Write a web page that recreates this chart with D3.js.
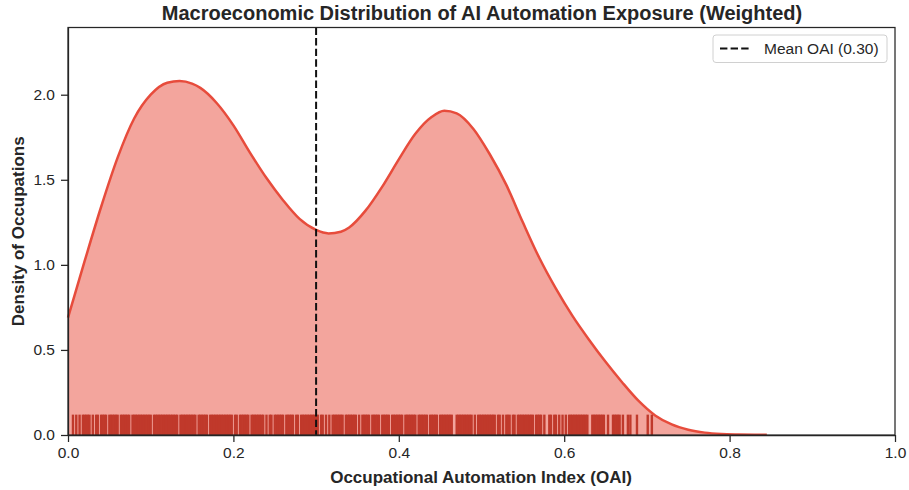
<!DOCTYPE html>
<html>
<head>
<meta charset="utf-8">
<script src="https://cdn.jsdelivr.net/npm/d3@7"></script>
<style>
  body { margin: 0; background: #fff; }
  svg { display: block; font-family: "Liberation Sans", Arial, sans-serif; }
  .axis text { font-size: 15.5px; fill: #262626; }
  .axis path, .axis line { stroke: #262626; stroke-width: 1.25; }
</style>
</head>
<body>
<svg id="figure"></svg>
<script>
// KDE curve (OAI value -> weighted density)
const oaiGrid = [0.000, 0.020, 0.040, 0.060, 0.080, 0.100, 0.120, 0.135, 0.150, 0.160,
  0.180, 0.200, 0.220, 0.240, 0.260, 0.280, 0.300, 0.315, 0.330, 0.340,
  0.360, 0.380, 0.400, 0.420, 0.440, 0.455, 0.470, 0.490, 0.510, 0.530,
  0.550, 0.570, 0.590, 0.610, 0.630, 0.650, 0.670, 0.690, 0.710, 0.730,
  0.750, 0.770, 0.790, 0.810, 0.830, 0.845];
const densityValues = [0.69, 1.02, 1.34, 1.63, 1.86, 2.00, 2.07, 2.08, 2.065, 2.04,
  1.95, 1.82, 1.66, 1.51, 1.38, 1.27, 1.205, 1.185, 1.195, 1.22,
  1.32, 1.46, 1.62, 1.77, 1.87, 1.905, 1.89, 1.80, 1.65, 1.47,
  1.25, 1.04, 0.86, 0.70, 0.56, 0.43, 0.31, 0.20, 0.115, 0.062,
  0.031, 0.014, 0.006, 0.003, 0.0015, 0.001];

// rug positions, in thousandths of the OAI
const rugOaiThousandths = [6, 10, 14, 18, 20, 22, 24, 26, 30, 34, 36, 40, 42, 44, 46,
  50, 52, 54, 56, 58, 60, 64, 66, 68, 70, 72, 74, 78, 80, 82, 84, 86, 88,
  90, 92, 94, 96, 98, 100, 104, 106, 108, 110, 112, 114, 116, 118,
  120, 122, 124, 126, 128, 130, 132, 136, 138, 140, 142, 144, 146, 148,
  150, 152, 154, 158, 160, 162, 164, 166, 168, 172, 174, 176, 178,
  180, 182, 184, 186, 188, 190, 192, 194, 196, 198, 202, 204, 208,
  210, 212, 214, 216, 218, 222, 224, 226, 228, 230, 232, 234, 236,
  240, 244, 246, 250, 252, 254, 256, 258, 260, 264, 266, 268,
  270, 272, 276, 278, 282, 284, 286, 288, 290, 292, 294, 296, 298,
  300, 302, 306, 308, 312, 316, 320, 322, 324, 326, 328, 330, 332, 336, 338,
  340, 342, 344, 346, 348, 352, 356, 358, 360, 362, 364, 368,
  370, 372, 374, 376, 380, 382, 384, 386, 388, 392, 394, 396, 398,
  400, 402, 404, 408, 410, 412, 414, 416, 418, 420, 424, 426, 428,
  430, 432, 434, 438, 440, 442, 444, 446, 450, 452, 454, 456, 458,
  460, 462, 464, 470, 472, 474, 476, 478, 480, 482, 484, 486, 488,
  492, 496, 498, 500, 502, 504, 506, 508, 510, 512, 514, 516,
  520, 522, 526, 530, 532, 534, 538, 540, 544, 546, 548,
  550, 552, 554, 556, 558, 560, 562, 566, 568, 570, 572, 576,
  582, 584, 588, 590, 594, 598, 602, 606, 608, 610, 612, 614, 616, 618,
  620, 622, 624, 626, 628, 634, 636, 638, 640, 642, 644, 646, 648,
  653, 659, 661, 663, 665, 667, 671, 677, 680, 688, 701, 706];

const meanOai = 0.30;
const xTicks = [0, 0.2, 0.4, 0.6, 0.8, 1.0];
const yTicks = [0, 0.5, 1.0, 1.5, 2.0];

const W = 909, H = 490;
const margin = {top: 27.5, right: 14, bottom: 55, left: 68};
const width = W - margin.left - margin.right;
const height = H - margin.top - margin.bottom;

const svg = d3.select("#figure").attr("width", W).attr("height", H);
const g = svg.append("g")
    .attr("transform", "translate(" + margin.left + "," + margin.top + ")");

const x = d3.scaleLinear().domain([0, 1]).range([0, width]);
const y = d3.scaleLinear().domain([0, 2.395]).range([height, 0]);

const curvePts = oaiGrid.map((v, i) => ({oai: v, dens: densityValues[i]}));

g.append("path")
    .datum(curvePts)
    .attr("fill", "#e74c3c")
    .attr("fill-opacity", 0.5)
    .attr("d", d3.area()
        .x(d => x(d.oai))
        .y0(y(0))
        .y1(d => y(d.dens))
        .curve(d3.curveMonotoneX));

g.append("path")
    .datum(curvePts)
    .attr("fill", "none")
    .attr("stroke", "#e74c3c")
    .attr("stroke-width", 2.5)
    .attr("d", d3.line()
        .x(d => x(d.oai))
        .y(d => y(d.dens))
        .curve(d3.curveMonotoneX));

// rug, 5% of the axes height
const rugH = height * 0.05;
g.append("g")
    .selectAll("line")
    .data(rugOaiThousandths)
    .join("line")
    .attr("x1", d => x(d / 1000))
    .attr("x2", d => x(d / 1000))
    .attr("y1", height)
    .attr("y2", height - rugH)
    .attr("stroke", "#c0392b")
    .attr("stroke-width", 2.4);

// mean line
g.append("line")
    .attr("x1", x(meanOai)).attr("x2", x(meanOai))
    .attr("y1", 0).attr("y2", height)
    .attr("stroke", "#111")
    .attr("stroke-width", 2)
    .attr("stroke-dasharray", "7.4,3.2");

// axes
g.append("g")
    .attr("class", "axis")
    .attr("transform", "translate(0," + height + ")")
    .call(d3.axisBottom(x).tickValues(xTicks).tickFormat(d3.format(".1f"))
        .tickSize(7).tickPadding(4.5).tickSizeOuter(0));

g.append("g")
    .attr("class", "axis")
    .call(d3.axisLeft(y).tickValues(yTicks).tickFormat(d3.format(".1f"))
        .tickSize(7).tickPadding(6).tickSizeOuter(0));

// frame (all four spines)
g.append("rect")
    .attr("width", width).attr("height", height)
    .attr("fill", "none")
    .attr("stroke", "#262626")
    .attr("stroke-width", 1.25);

// labels
svg.append("text")
    .attr("x", 482).attr("y", 19.5)
    .attr("text-anchor", "middle")
    .style("font-size", "20px").style("font-weight", "bold").style("fill", "#262626")
    .text("Macroeconomic Distribution of AI Automation Exposure (Weighted)");

svg.append("text")
    .attr("x", 481).attr("y", 483)
    .attr("text-anchor", "middle")
    .style("font-size", "17px").style("font-weight", "bold").style("fill", "#262626")
    .text("Occupational Automation Index (OAI)");

svg.append("text")
    .attr("transform", "translate(24," + (margin.top + height / 2) + ") rotate(-90)")
    .attr("text-anchor", "middle")
    .style("font-size", "17px").style("font-weight", "bold").style("fill", "#262626")
    .text("Density of Occupations");

// legend
const legend = svg.append("g").attr("transform", "translate(713,35)");
legend.append("rect")
    .attr("width", 174).attr("height", 27.5)
    .attr("rx", 3)
    .attr("fill", "#fff").attr("fill-opacity", 0.8)
    .attr("stroke", "#d0d0d0").attr("stroke-width", 1);
legend.append("line")
    .attr("x1", 7).attr("x2", 37).attr("y1", 13.5).attr("y2", 13.5)
    .attr("stroke", "#111").attr("stroke-width", 2)
    .attr("stroke-dasharray", "7.4,3.2");
legend.append("text")
    .attr("x", 51).attr("y", 19)
    .style("font-size", "15.5px").style("fill", "#262626")
    .text("Mean OAI (0.30)");
</script>
</body>
</html>
